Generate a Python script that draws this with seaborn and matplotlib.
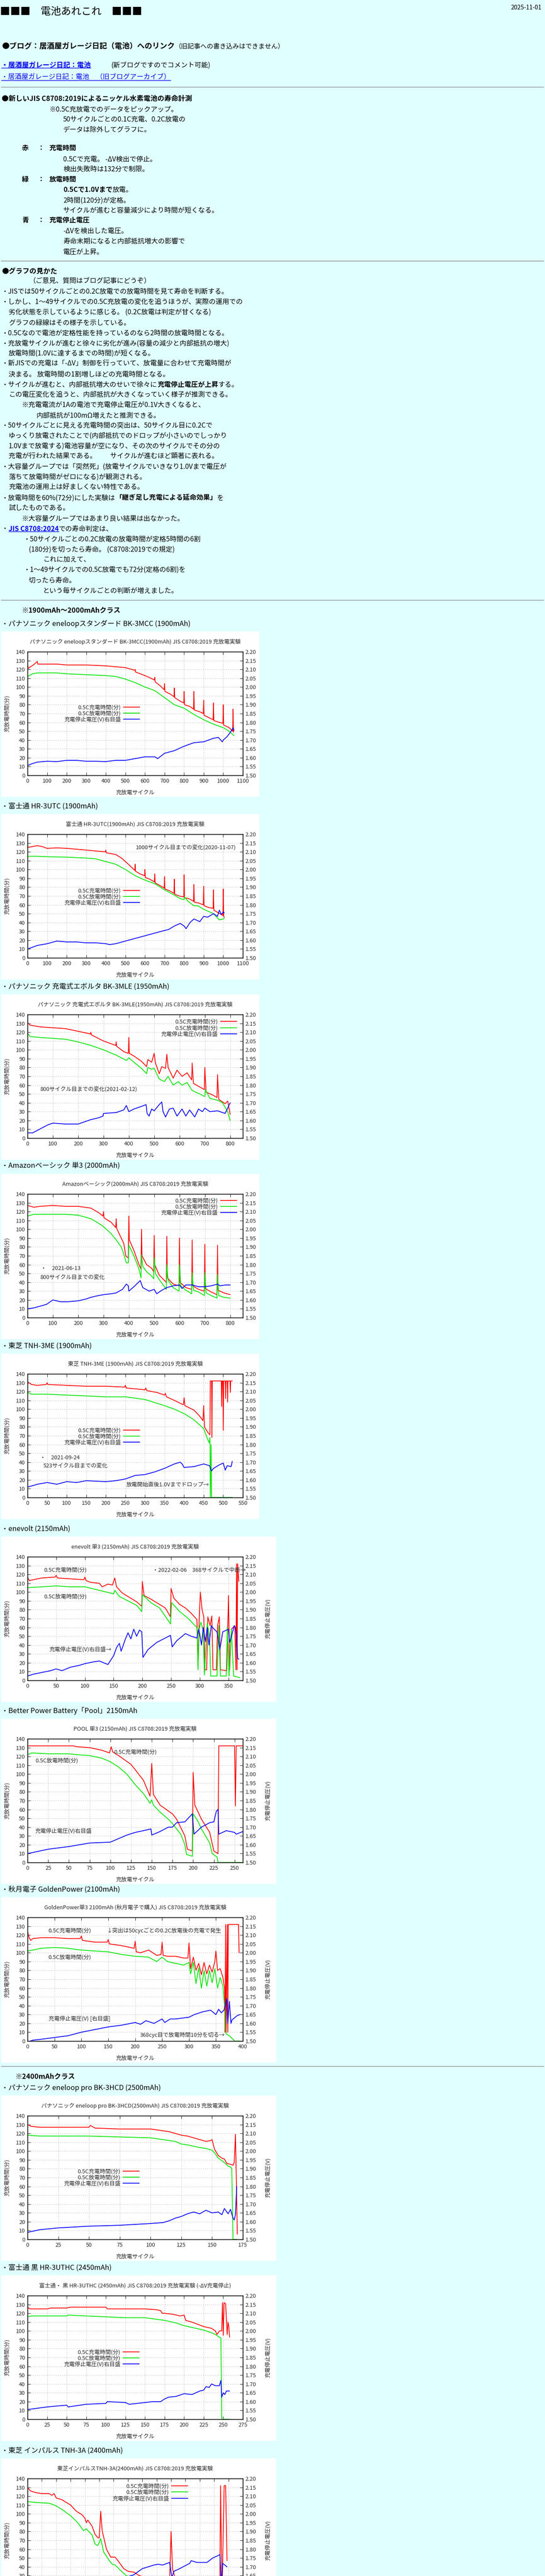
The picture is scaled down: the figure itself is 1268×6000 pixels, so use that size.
import matplotlib
matplotlib.use("Agg")

import matplotlib.pyplot as plt
import numpy as np
import pandas as pd
import seaborn as sns
from matplotlib.lines import Line2D
from matplotlib.patches import Rectangle

W, H = 1268, 6000
BG = "#e0ffff"
LINK = "#0000ee"
RED, GREEN, BLUE = "#ff0000", "#00e600", "#0000ff"
BODY = 11.3
SMALL = 9.3

# ---- page headings / chart titles ----
HEADERS = [
    "・パナソニック eneloopスタンダード BK-3MCC (1900mAh)",
    "・富士通 HR-3UTC (1900mAh)",
    "・パナソニック 充電式エボルタ BK-3MLE (1950mAh)",
    "・Amazonベーシック 単3 (2000mAh)",
    "・東芝 TNH-3ME (1900mAh)",
    "・enevolt (2150mAh)",
    "・Better Power Battery「Pool」2150mAh",
    "・秋月電子 GoldenPower (2100mAh)",
    "・パナソニック eneloop pro BK-3HCD (2500mAh)",
    "・富士通 黒 HR-3UTHC (2450mAh)",
    "・東芝 インパルス TNH-3A (2400mAh)",
]
TITLES = [
    "パナソニック eneloopスタンダード BK-3MCC(1900mAh) JIS C8708:2019 充放電実験",
    "富士通 HR-3UTC(1900mAh) JIS C8708:2019 充放電実験",
    "パナソニック 充電式エボルタ BK-3MLE(1950mAh) JIS C8708:2019 充放電実験",
    "Amazonベーシック(2000mAh) JIS C8708:2019 充放電実験",
    "東芝 TNH-3ME (1900mAh) JIS C8708:2019 充放電実験",
    "enevolt 単3 (2150mAh) JIS C8708:2019 充放電実験",
    "POOL 単3 (2150mAh) JIS C8708:2019 充放電実験",
    "GoldenPower単3 2100mAh (秋月電子で購入) JIS C8708:2019 充放電実験",
    "パナソニック eneloop pro BK-3HCD(2500mAh) JIS C8708:2019 充放電実験",
    "富士通・ 黒 HR-3UTHC (2450mAh) JIS C8708:2019 充放電実験 (-ΔV充電停止)",
    "東芝インパルスTNH-3A(2400mAh) JIS C8708:2019 充放電実験",
]
LEGEND_LABELS = ["0.5C充電時間(分)", "0.5C放電時間(分)", "充電停止電圧(V)右目盛"]

# ---- series: (cycle, minutes) for red/green, (cycle, volts) for blue ----
std_red = [(0, 126), (3, 121), (15, 123), (30, 125), (50, 129), (52, 126), (100, 126), (150, 126),
           (200, 125), (300, 125), (400, 124), (450, 123), (500, 122), (548, 119), (550, 120), (552, 117),
           (600, 113), (630, 110), (648, 108), (650, 111), (652, 106), (680, 101), (698, 97), (700, 104),
           (702, 95), (730, 92), (748, 89), (750, 99), (752, 88), (780, 84), (798, 82), (800, 95), (802, 80),
           (830, 78), (848, 75), (850, 95), (852, 74), (880, 72), (898, 70), (900, 85), (902, 68), (930, 65),
           (948, 63), (950, 82), (952, 62), (980, 60), (998, 59), (1000, 80), (1002, 57), (1030, 54),
           (1048, 50), (1050, 75), (1052, 49)]
std_green = [(0, 112), (10, 113), (25, 115), (50, 116), (100, 116), (150, 116), (200, 115), (300, 114),
             (400, 113), (450, 112), (500, 109), (550, 105), (600, 100), (650, 96), (700, 88), (750, 80),
             (800, 76), (850, 69), (900, 63), (950, 58), (1000, 54), (1030, 50), (1050, 46), (1055, 45)]
std_blue = [(0, 1.555), (20, 1.565), (50, 1.575), (100, 1.58), (150, 1.578), (200, 1.585), (250, 1.585),
            (300, 1.58), (350, 1.58), (400, 1.578), (450, 1.585), (500, 1.585), (550, 1.595), (600, 1.605),
            (650, 1.605), (665, 1.595), (700, 1.625), (750, 1.64), (800, 1.665), (850, 1.685), (900, 1.69),
            (950, 1.71), (975, 1.715), (995, 1.69), (1000, 1.70), (1020, 1.72), (1040, 1.75), (1050, 1.77),
            (1055, 1.755)]

utc_red = [(0, 128), (2, 125), (25, 126), (50, 127), (75, 126), (100, 124), (150, 124.5), (200, 124),
           (250, 123), (300, 122), (350, 121), (398, 120), (400, 122), (402, 119), (450, 117), (480, 113),
           (500, 109), (520, 105), (548, 99), (550, 106), (552, 98), (575, 95), (598, 93), (600, 100),
           (602, 91), (625, 89), (648, 86), (650, 95), (652, 85), (675, 82), (698, 79), (700, 92), (702, 78),
           (725, 76), (748, 73), (750, 89), (752, 72), (775, 70), (798, 69), (800, 94), (802, 68), (825, 67),
           (848, 64), (850, 83), (852, 63), (875, 62), (898, 60), (900, 81), (902, 59), (925, 57), (948, 56),
           (950, 77), (952, 54), (975, 51), (998, 48), (1000, 78), (1002, 47), (1005, 46)]
utc_green = [(0, 115), (50, 115), (100, 114.5), (200, 114), (300, 113), (350, 112), (400, 109), (450, 106),
             (500, 100), (550, 93), (600, 88), (650, 84), (700, 77), (750, 71), (780, 67), (800, 66),
             (802, 69), (820, 64), (850, 59), (870, 59), (900, 55), (950, 50), (980, 43), (1000, 44),
             (1005, 45)]
utc_blue = [(0, 1.55), (25, 1.56), (50, 1.57), (100, 1.58), (150, 1.595), (200, 1.59), (250, 1.59),
            (300, 1.585), (350, 1.585), (400, 1.58), (420, 1.575), (450, 1.58), (500, 1.595), (550, 1.61),
            (600, 1.625), (650, 1.64), (700, 1.655), (720, 1.66), (750, 1.68), (780, 1.695), (800, 1.68),
            (810, 1.665), (830, 1.70), (850, 1.72), (880, 1.705), (900, 1.735), (920, 1.73), (950, 1.75),
            (970, 1.735), (980, 1.77), (990, 1.745), (1000, 1.76), (1005, 1.755)]

mle_red = [(0, 131), (10, 128), (50, 126), (100, 125), (150, 124), (200, 121), (248, 118), (250, 120),
           (252, 117), (300, 110), (348, 105), (350, 109), (352, 104), (380, 98), (398, 96), (400, 114),
           (402, 96), (420, 93), (450, 87), (470, 81), (475, 89), (490, 86), (500, 96), (505, 85), (520, 73),
           (530, 81), (545, 79), (550, 95), (555, 80), (575, 68), (590, 77), (610, 70), (630, 74), (648, 66),
           (650, 85), (655, 62), (680, 58), (698, 55), (700, 80), (705, 52), (730, 49), (748, 46), (750, 72),
           (755, 44), (780, 39), (790, 42), (800, 27)]
mle_green = [(0, 119), (10, 115), (50, 114), (100, 113), (150, 112), (200, 109), (250, 105), (300, 100),
             (350, 94), (390, 88), (400, 91), (420, 86), (450, 79), (470, 73), (475, 80), (490, 78),
             (500, 79), (520, 67), (540, 64), (555, 70), (575, 60), (595, 64), (610, 60), (630, 63),
             (650, 54), (680, 50), (700, 47), (702, 55), (720, 45), (750, 43), (770, 40), (790, 30), (800, 20)]
mle_blue = [(0, 1.53), (20, 1.53), (40, 1.545), (60, 1.56), (80, 1.575), (100, 1.585), (150, 1.58),
            (200, 1.58), (230, 1.595), (250, 1.605), (280, 1.615), (298, 1.625), (300, 1.64), (350, 1.645),
            (380, 1.66), (390, 1.685), (400, 1.65), (420, 1.665), (450, 1.68), (468, 1.69), (472, 1.64),
            (480, 1.625), (490, 1.665), (500, 1.655), (520, 1.69), (530, 1.705), (535, 1.65), (545, 1.62),
            (560, 1.665), (575, 1.67), (590, 1.625), (610, 1.665), (625, 1.625), (640, 1.66), (660, 1.62),
            (675, 1.665), (690, 1.65), (700, 1.67), (720, 1.65), (750, 1.655), (780, 1.64), (800, 1.70)]

amz_red = [(0, 127), (25, 125), (50, 126), (100, 127), (150, 126), (200, 126), (250, 124), (280, 119),
           (298, 115), (300, 120), (302, 113), (330, 108), (348, 102), (350, 112), (352, 101), (370, 90),
           (380, 84), (388, 70), (395, 68), (398, 68), (400, 115), (402, 88), (420, 76), (440, 60), (448, 55),
           (450, 100), (452, 70), (470, 60), (490, 56), (498, 52), (500, 93), (502, 60), (520, 48), (548, 40),
           (550, 92), (552, 45), (575, 38), (598, 36), (600, 90), (602, 40), (625, 34), (648, 32), (650, 88),
           (652, 36), (675, 32), (698, 30), (700, 83), (702, 33), (725, 29), (748, 26), (750, 82), (752, 31),
           (775, 28), (800, 26)]
amz_green = [(0, 115), (25, 117), (50, 117), (100, 117), (150, 117), (200, 116), (250, 112), (280, 107),
             (300, 103), (330, 95), (350, 88), (370, 80), (380, 72), (390, 62), (398, 62), (400, 82),
             (420, 70), (440, 55), (448, 45), (450, 71), (455, 58), (470, 52), (490, 47), (498, 44),
             (500, 68), (505, 50), (520, 43), (548, 32), (550, 60), (555, 42), (575, 34), (598, 30),
             (600, 60), (605, 36), (625, 31), (648, 27), (650, 51), (655, 31), (675, 29), (698, 25),
             (700, 51), (705, 28), (725, 25), (748, 22), (750, 49), (755, 25), (775, 23), (800, 22)]
amz_blue = [(0, 1.55), (25, 1.555), (50, 1.565), (75, 1.575), (100, 1.60), (130, 1.59), (160, 1.59),
            (200, 1.595), (230, 1.605), (250, 1.615), (280, 1.625), (300, 1.63), (330, 1.635), (350, 1.64),
            (375, 1.66), (390, 1.69), (398, 1.68), (400, 1.65), (420, 1.675), (445, 1.71), (455, 1.67),
            (480, 1.65), (500, 1.66), (510, 1.635), (530, 1.655), (550, 1.67), (575, 1.68), (600, 1.685),
            (610, 1.665), (625, 1.685), (650, 1.685), (675, 1.675), (700, 1.675), (725, 1.68), (750, 1.69),
            (760, 1.68), (780, 1.685), (800, 1.685)]

tme_red = [(0, 131), (10, 128), (25, 127), (48, 128), (50, 130), (52, 128), (100, 127), (150, 126),
           (200, 126), (248, 125), (250, 127), (252, 124), (300, 122), (302, 124), (305, 121), (330, 119),
           (350, 116), (352, 118), (355, 114), (375, 110), (398, 105), (400, 113), (402, 104), (425, 99),
           (440, 92), (448, 87), (450, 104), (452, 80), (460, 74), (466, 71), (467, 132), (470, 132),
           (471, 68), (472, 132), (495, 132), (496, 103), (497, 132), (499, 132), (500, 76), (501, 132),
           (505, 132), (506, 112), (507, 132), (510, 132), (511, 108), (512, 132), (517, 132), (518, 119),
           (519, 132), (523, 132)]
tme_green = [(0, 119), (10, 117), (50, 117), (100, 116), (150, 115), (200, 114), (250, 114), (300, 111),
             (350, 104), (375, 100), (400, 95), (425, 88), (450, 78), (460, 66), (464, 62), (466, 68),
             (467, 0), (469, 60), (470, 0), (523, 0)]
tme_blue = [(0, 1.56), (10, 1.565), (25, 1.575), (50, 1.585), (75, 1.575), (100, 1.59), (125, 1.585),
            (150, 1.595), (200, 1.59), (225, 1.595), (250, 1.605), (275, 1.625), (300, 1.63), (325, 1.645),
            (350, 1.665), (375, 1.69), (390, 1.70), (395, 1.69), (400, 1.67), (425, 1.675), (450, 1.69),
            (465, 1.68), (470, 1.65), (475, 1.665), (490, 1.685), (500, 1.695), (505, 1.655), (510, 1.68),
            (520, 1.675), (523, 1.705)]

env_red = [(0, 117), (3, 113), (25, 116), (48, 117), (50, 119), (52, 116), (75, 115), (98, 114), (100, 117),
           (102, 113), (110, 111), (125, 110), (130, 106), (140, 109), (148, 108), (152, 116), (155, 106),
           (165, 99), (175, 95), (190, 89), (199, 84), (200, 112), (203, 96), (215, 92), (230, 86), (240, 82),
           (249, 72), (250, 104), (255, 93), (265, 86), (275, 82), (285, 76), (295, 69), (297, 16), (299, 70),
           (301, 100), (304, 80), (307, 72), (309, 12), (312, 12), (314, 72), (318, 62), (321, 73), (323, 12),
           (329, 12), (331, 62), (334, 72), (336, 12), (347, 11), (350, 96), (352, 12), (355, 58), (358, 60),
           (361, 62), (363, 12), (364, 132), (365, 12), (366, 132), (368, 112)]
env_green = [(0, 105), (25, 106), (50, 107), (75, 106), (100, 106), (125, 102), (150, 98), (152, 102),
             (160, 95), (175, 90), (190, 85), (199, 78), (200, 97), (215, 88), (230, 82), (249, 64),
             (251, 88), (265, 78), (280, 70), (295, 60), (297, 12), (299, 58), (302, 66), (306, 56), (308, 6),
             (313, 65), (317, 50), (319, 5), (330, 5), (333, 62), (336, 5), (346, 5), (348, 60), (351, 5),
             (355, 58), (359, 5), (370, 3)]
env_blue = [(0, 1.525), (10, 1.535), (25, 1.545), (40, 1.555), (50, 1.565), (60, 1.555), (75, 1.575),
            (90, 1.585), (100, 1.595), (115, 1.605), (125, 1.61), (140, 1.59), (150, 1.64), (155, 1.685),
            (160, 1.71), (163, 1.665), (170, 1.73), (175, 1.77), (180, 1.735), (185, 1.79), (190, 1.75),
            (195, 1.785), (199, 1.775), (201, 1.63), (210, 1.675), (225, 1.715), (240, 1.74), (249, 1.755),
            (252, 1.69), (260, 1.725), (275, 1.765), (285, 1.75), (295, 1.74), (298, 1.79), (300, 1.76),
            (303, 1.70), (306, 1.80), (310, 1.72), (313, 1.80), (316, 1.70), (320, 1.81), (325, 1.79),
            (330, 1.775), (335, 1.675), (340, 1.775), (350, 1.79), (352, 1.715), (356, 1.76), (360, 1.81),
            (362, 1.80), (364, 1.75), (366, 1.625), (368, 1.62)]

pool_red = [(0, 132), (25, 132), (55, 132), (60, 131), (75, 130), (90, 127), (99, 124), (101, 131),
            (103, 125), (110, 121), (125, 111), (140, 93), (148, 75), (150, 112), (152, 77), (160, 65),
            (175, 55), (180, 49), (190, 30), (193, 15), (199, 13), (200, 102), (202, 65), (210, 49), (220, 34),
            (225, 13), (230, 10), (231, 132), (250, 132), (251, 64), (252, 132), (260, 132)]
pool_green = [(0, 122), (5, 124), (25, 123), (50, 123), (60, 122), (75, 121), (90, 118), (100, 114),
              (110, 108), (120, 100), (125, 94), (130, 88), (140, 78), (148, 67), (150, 71), (152, 65),
              (160, 57), (170, 49), (175, 44), (180, 38), (185, 32), (190, 20), (192, 9), (199, 7), (200, 55),
              (205, 48), (210, 38), (215, 30), (220, 22), (223, 10), (229, 6), (230, 0), (260, 0)]
pool_blue = [(0, 1.55), (10, 1.56), (25, 1.575), (50, 1.59), (75, 1.61), (100, 1.615), (110, 1.635),
             (120, 1.655), (130, 1.67), (140, 1.68), (149, 1.69), (150, 1.655), (160, 1.675), (170, 1.70),
             (175, 1.70), (180, 1.725), (190, 1.73), (199, 1.775), (201, 1.66), (210, 1.70), (220, 1.725),
             (225, 1.73), (228, 1.79), (230, 1.80), (231, 1.66), (240, 1.68), (250, 1.67), (252, 1.66),
             (260, 1.675)]

gp_red = [(0, 124), (3, 117), (6, 114), (10, 116), (25, 117), (50, 117), (75, 116), (98, 116), (100, 119),
          (102, 114), (125, 112), (148, 112), (150, 115), (152, 110), (175, 108), (198, 105), (200, 113),
          (202, 101), (210, 100), (225, 103), (240, 97), (248, 98), (250, 112), (252, 97), (260, 96),
          (275, 96), (290, 94), (298, 94), (300, 111), (303, 82), (308, 95), (313, 80), (318, 88), (323, 75),
          (328, 89), (333, 76), (338, 86), (343, 78), (348, 90), (350, 102), (353, 80), (358, 82), (363, 72),
          (366, 60), (367, 10), (368, 132), (369, 10), (371, 132), (372, 10), (373, 132), (392, 132),
          (393, 100)]
gp_green = [(0, 102), (10, 103), (25, 105), (50, 106), (75, 105), (100, 103), (125, 102), (150, 101),
            (175, 98), (200, 96), (225, 95), (240, 90), (250, 95), (260, 90), (275, 88), (290, 86), (300, 89),
            (303, 76), (308, 89), (313, 65), (318, 83), (323, 60), (328, 80), (333, 62), (338, 80), (343, 66),
            (348, 82), (353, 60), (358, 72), (363, 62), (366, 40), (367, 18), (369, 8), (375, 6), (380, 3),
            (385, 0), (395, 0)]
gp_blue = [(5, 1.50), (10, 1.505), (25, 1.51), (50, 1.52), (75, 1.53), (100, 1.55), (125, 1.565),
           (150, 1.58), (175, 1.59), (200, 1.605), (210, 1.595), (220, 1.615), (235, 1.60), (250, 1.625),
           (255, 1.605), (265, 1.625), (275, 1.625), (300, 1.635), (310, 1.65), (325, 1.665), (340, 1.675),
           (350, 1.65), (355, 1.68), (360, 1.66), (365, 1.675), (370, 1.74), (372, 1.60), (375, 1.725),
           (378, 1.60), (380, 1.62), (390, 1.645), (395, 1.65)]

pro_red = [(0, 130), (3, 128), (10, 127), (25, 127), (50, 127), (51, 129), (55, 126), (75, 125), (100, 125),
           (105, 124), (110, 123), (115, 122), (120, 120), (125, 118), (130, 117), (140, 113), (145, 111),
           (149, 112), (150, 113), (152, 102), (155, 95), (158, 92), (160, 91), (162, 86), (165, 85),
           (167, 84), (168, 87), (169, 119), (170, 46), (170.5, 6)]
pro_green = [(0, 118), (10, 117), (25, 117), (50, 117), (75, 116), (100, 115), (110, 113), (120, 111),
             (125, 108), (130, 107), (140, 104), (145, 103), (150, 101), (152, 98), (155, 92), (160, 87),
             (163, 83), (165, 82), (166, 80), (167, 0), (170, 0)]
pro_blue = [(0, 1.54), (10, 1.555), (25, 1.565), (50, 1.575), (75, 1.58), (100, 1.59), (110, 1.595),
            (115, 1.605), (120, 1.62), (125, 1.63), (130, 1.645), (135, 1.655), (140, 1.645), (145, 1.665),
            (150, 1.65), (155, 1.655), (158, 1.64), (160, 1.675), (163, 1.645), (165, 1.67), (167, 1.62),
            (168, 1.61), (169, 1.64), (170, 1.80)]

uthc_red = [(0, 127), (3, 125), (25, 125), (30, 126), (50, 126), (55, 127), (75, 127), (100, 127),
            (102, 125), (125, 125), (150, 125), (165, 124), (170, 123), (172, 120), (175, 120), (185, 119),
            (190, 118), (195, 117), (200, 118), (202, 112), (210, 110), (225, 105), (235, 103), (240, 100),
            (242, 96), (245, 100), (248, 100), (249, 132), (250, 95), (251, 132), (253, 131), (255, 96),
            (256, 110), (257, 106), (258, 93)]
uthc_green = [(0, 116), (5, 117), (25, 117), (50, 117), (52, 118), (75, 117), (100, 116), (125, 115),
              (150, 115), (175, 112), (190, 109), (200, 106), (210, 104), (225, 101), (235, 98), (240, 96),
              (245, 93), (247, 92), (248, 0), (258, 0)]
uthc_blue = [(0, 1.555), (25, 1.57), (50, 1.58), (52, 1.57), (75, 1.585), (100, 1.59), (102, 1.60),
             (125, 1.595), (130, 1.585), (150, 1.595), (160, 1.60), (170, 1.60), (175, 1.615), (180, 1.625),
             (190, 1.63), (200, 1.645), (210, 1.64), (220, 1.66), (225, 1.665), (228, 1.685), (232, 1.68),
             (235, 1.70), (240, 1.69), (245, 1.69), (247, 1.72), (248, 1.625), (250, 1.65), (252, 1.64),
             (254, 1.66), (258, 1.66)]

tna_red = [(0, 130), (2, 126), (6, 124), (10, 123), (15, 123), (17, 121), (18.5, 123), (20, 118), (24, 116),
           (30, 110), (34, 103), (38, 99), (40, 95), (41, 90), (42, 93), (45, 86), (47, 77), (49, 73),
           (50, 73), (51, 103), (52, 81), (55, 60), (58, 51), (61, 51), (63, 47), (67, 38), (70, 35),
           (74, 34), (78, 30), (85, 27), (95, 25), (99, 25), (100, 80), (101, 38), (103, 26), (110, 25),
           (130, 24), (134, 24), (134.5, 132), (135.5, 10), (137, 132), (138, 132), (139, 47)]
tna_green = [(0, 114), (5, 113), (15, 112), (17, 111), (20, 109), (24, 105), (30, 98), (35, 90), (39, 81),
             (41, 83), (45, 76), (47, 66), (49, 64), (51, 72), (53, 57), (57, 47), (59, 43), (61, 42),
             (63, 39), (66, 34), (69, 30), (75, 27), (85, 24), (95, 22), (100, 22), (101, 28), (103, 21),
             (120, 20), (134, 19), (135, 0), (139, 0)]
tna_blue = [(0, 1.55), (20, 1.57), (40, 1.59), (60, 1.62), (70, 1.645), (74, 1.655), (80, 1.69), (88, 1.71),
            (91, 1.715), (94, 1.71), (99, 1.725), (100.5, 1.64), (102, 1.675), (106, 1.69), (113, 1.72),
            (114, 1.735), (118, 1.725), (125, 1.725), (129, 1.75), (133, 1.765), (134, 1.77), (135, 1.60),
            (136, 1.72), (139, 1.70)]

# in-plot notes: (text, cycle, minutes)
utc_notes = [("1000サイクル目までの変化(2020-11-07)", 552, 125)]
mle_notes = [("800サイクル目までの変化(2021-02-12)", 50, 55.5)]
amz_notes = [("・　2021-06-13", 53, 55.6), ("800サイクル目までの変化", 50, 45.5)]
tme_notes = [("・　2021-09-24", 32, 45.2), ("523サイクル目までの変化", 40, 36),
             ("放電開始直後1.0Vまでドロップ→", 252, 14.6)]
env_notes = [("0.5C充電時間(分)", 28.5, 124.8), ("0.5C放電時間(分)", 28.5, 95),
             ("充電停止電圧(V)右目盛→", 38, 35.3), ("・2022-02-06　368サイクルで中断→", 218, 124.8)]
pool_notes = [("0.5C充電時間(分)", 104.4, 124.9), ("0.5C放電時間(分)", 9.3, 115.2),
              ("充電停止電圧(V)右目盛", 9.3, 35.5)]
gp_notes = [("0.5C充電時間(分)", 39, 124.9), ("↓突出は50cycごとの0.2C放電後の充電で発生", 147.7, 124.9),
            ("0.5C放電時間(分)", 39, 95.1), ("充電停止電圧(V) [右目盛]", 39, 25.7),
            ("368cyc目で放電時間10分を切る→", 208.6, 6.6)]

CHARTS = [
    dict(top=1518, xmax=1100, xstep=100, red=std_red, green=std_green, blue=std_blue, wide=False,
         legend=(0.521, 0.50), notes=[]),
    dict(top=1943, xmax=1100, xstep=100, red=utc_red, green=utc_green, blue=utc_blue, wide=False,
         legend=(0.521, 0.495), notes=utc_notes),
    dict(top=2363, xmax=850, xstep=100, red=mle_red, green=mle_green, blue=mle_blue, wide=False,
         legend=(0.972, 0.891), notes=mle_notes),
    dict(top=2781, xmax=850, xstep=100, red=amz_red, green=amz_green, blue=amz_blue, wide=False,
         legend=(0.972, 0.897), notes=amz_notes),
    dict(top=3200, xmax=550, xstep=50, red=tme_red, green=tme_green, blue=tme_blue, wide=False,
         legend=(0.521, 0.494), notes=tme_notes),
    dict(top=3626, xmax=375, xstep=50, red=env_red, green=env_green, blue=env_blue, wide=True,
         legend=None, notes=env_notes),
    dict(top=4050, xmax=260, xstep=25, red=pool_red, green=pool_green, blue=pool_blue, wide=True,
         legend=None, notes=pool_notes),
    dict(top=4466, xmax=400, xstep=50, red=gp_red, green=gp_green, blue=gp_blue, wide=True,
         legend=None, notes=gp_notes),
    dict(top=4928, xmax=175, xstep=25, red=pro_red, green=pro_green, blue=pro_blue, wide=True,
         legend=(0.519, 0.50), notes=[]),
    dict(top=5347, xmax=275, xstep=25, red=uthc_red, green=uthc_green, blue=uthc_blue, wide=True,
         legend=(0.519, 0.493), notes=[]),
    dict(top=5773, xmax=150, xstep=10, red=tna_red, green=tna_green, blue=tna_blue, wide=True,
         legend=(0.745, 0.888), notes=[]),
]

sns.set_style("ticks")
plt.rcParams["font.family"] = ["Noto Sans CJK JP", "DejaVu Sans"]
plt.rcParams["axes.unicode_minus"] = False

fig = plt.figure(figsize=(W / 100, H / 100), dpi=100, facecolor=BG)
renderer = fig.canvas.get_renderer()

N = {}
B = {"weight": "bold"}


def put(x, y, s, size=BODY, weight="normal", color="black", ha="left", underline=False):
    t = fig.text(x / W, 1 - y / H, s, fontsize=size, fontweight=weight, color=color, ha=ha, va="center")
    if underline:
        bb = t.get_window_extent(renderer)
        fig.add_artist(Line2D([bb.x0 / W, bb.x1 / W], [(bb.y0 + 2) / H] * 2, color=color, lw=1))
    return t


def run(x, y, parts):
    for s, kw in parts:
        t = put(x, y, s, **kw)
        x = t.get_window_extent(renderer).x1


def hr(y):
    fig.add_artist(Line2D([3 / W, 1265 / W], [1 - y / H] * 2, color="#9a9a9a", lw=1.2))


def draw_chart(i, c):
    top = c["top"]
    bottom = top + 288
    put(3, top - 65, HEADERS[i], size=11.8)
    right = 643 if c["wide"] else 603
    fig.add_artist(Rectangle((3 / W, 1 - (top + 338) / H), (right - 3) / W, 385 / H,
                             transform=fig.transFigure, facecolor="white", edgecolor="none", zorder=-1))

    ax = fig.add_axes([64 / W, 1 - bottom / H, 501 / W, 288 / H])
    ax2 = ax.twinx()
    for pts, color, target in ((c["red"], RED, ax), (c["green"], GREEN, ax), (c["blue"], BLUE, ax2)):
        df = pd.DataFrame(pts, columns=["cycle", "value"])
        sns.lineplot(data=df, x="cycle", y="value", ax=target, color=color, lw=1.3,
                     estimator=None, sort=False, legend=False)

    ax.set_xlim(0, c["xmax"])
    ax.set_ylim(0, 140)
    ax2.set_ylim(1.5, 2.2)

    # labels that would fall below the page edge stay blank (the page is cut there)
    below = bottom + 9 > H
    xt = np.arange(0, c["xmax"] + 1, c["xstep"])
    ax.set_xticks(xt)
    ax.set_xticklabels(["" if below else str(v) for v in xt])
    yt = np.arange(0, 141, 10)
    ypix = [bottom - v / 140 * 288 for v in yt]
    ax.set_yticks(yt)
    ax.set_yticklabels(["" if p - 4 > H else str(v) for v, p in zip(yt, ypix)])
    vt = np.linspace(1.5, 2.2, 15)
    ax2.set_yticks(vt)
    ax2.set_yticklabels(["" if p - 4 > H else f"{v:.2f}" for v, p in zip(vt, ypix)])

    for a in (ax, ax2):
        a.set_xlabel("")
        a.set_ylabel("")
        for sp in a.spines.values():
            sp.set_color("black")
            sp.set_linewidth(1)
    ax.tick_params(axis="x", direction="in", top=True, length=5, pad=5, labelsize=SMALL)
    ax.tick_params(axis="y", direction="in", right=False, length=5, pad=4, labelsize=SMALL)
    ax2.tick_params(axis="y", direction="in", length=5, pad=4, labelsize=SMALL)
    ax.grid(True, color="#a0a0a0", linestyle=(0, (1, 3)), lw=0.8)
    ax.set_facecolor("white")

    ax.text(0.5, 1 + 23 / 288, TITLES[i], transform=ax.transAxes, ha="center", va="center", fontsize=SMALL)
    if not below:
        ax.text(0.5, -40 / 288, "充放電サイクル", transform=ax.transAxes, ha="center", va="center",
                fontsize=SMALL)
    ax.text(-48 / 501, 0.5, "充放電時間(分)", transform=ax.transAxes, ha="center", va="center",
            rotation=90, fontsize=SMALL)
    if c["wide"]:
        ax.text(559 / 501, 0.5, "充電停止電圧(V)", transform=ax.transAxes, ha="center", va="center",
                rotation=90, fontsize=SMALL)

    for s, x, y in c["notes"]:
        ax.text(x, y, s, ha="left", va="center", fontsize=SMALL)

    if c["legend"] is not None:
        handles = [Line2D([], [], color=col, lw=1.3) for col in (RED, GREEN, BLUE)]
        ax.legend(handles, LEGEND_LABELS, loc="center right", bbox_to_anchor=c["legend"],
                  markerfirst=False, frameon=False, fontsize=SMALL, handlelength=2.95,
                  handletextpad=0.45, labelspacing=0.05, borderpad=0, borderaxespad=0)


# ---- page text ----
put(0, 28, "■■■　電池あれこれ　■■■", size=17)
put(1260, 18, "2025-11-01", size=10, ha="right")

run(4, 108, [("●ブログ：居酒屋ガレージ日記（電池）へのリンク", dict(weight="bold", size=12.6)),
             ("（旧記事への書き込みはできません）", dict(size=10.8))])
put(3, 152, "・居酒屋ガレージ日記：電池", weight="bold", color=LINK, size=11.5, underline=True)
put(259, 152, "(新ブログですのでコメント可能)")
put(3, 180, "・居酒屋ガレージ日記：電池　（旧ブログアーカイブ）", color=LINK, underline=True)
hr(203)

put(4, 230, "●新しいJIS C8708:2019によるニッケル水素電池の寿命計測", weight="bold", size=11.6)
put(115, 255, "※0.5C充放電でのデータをピックアップ。")
put(147, 278, "50サイクルごとの0.1C充電、0.2C放電の")
put(147, 302, "データは除外してグラフに。")

for y, key, name in ((345, "赤", "充電時間"), (418, "緑", "放電時間"), (513, "青", "充電停止電圧")):
    put(51, y, key, weight="bold")
    put(88, y, "：", weight="bold")
    put(115, y, name, weight="bold")
put(147, 371, "0.5Cで充電。 -ΔV検出で停止。")
put(147, 394, "検出失敗時は132分で制限。")
run(147, 442, [("0.5Cで1.0Vまで", B), ("放電。", N)])
put(147, 467, "2時間(120分)が定格。")
put(147, 490, "サイクルが進むと容量減少により時間が短くなる。")
put(147, 538, "-ΔVを検出した電圧。")
put(147, 562, "寿命末期になると内部抵抗増大の影響で")
put(147, 587, "電圧が上昇。")
hr(608)

put(4, 632, "●グラフの見かた", weight="bold", size=11.6)
put(67, 655, "（ご意見、質問はブログ記事にどうぞ）")
put(4, 679, "・JISでは50サイクルごとの0.2C放電での放電時間を見て寿命を判断する。")
put(4, 703, "・しかし、1〜49サイクルでの0.5C充放電の変化を追うほうが、実際の運用での")
put(20, 727, "劣化状態を示しているように感じる。 (0.2C放電は判定が甘くなる)")
put(20, 752, "グラフの緑線はその様子を示している。")
put(4, 776, "・0.5Cなので電池が定格性能を持っているのなら2時間の放電時間となる。")
put(4, 800, "・充放電サイクルが進むと徐々に劣化が進み(容量の減少と内部抵抗の増大)")
put(20, 823, "放電時間(1.0Vに達するまでの時間)が短くなる。")
put(4, 847, "・新JISでの充電は「-ΔV」制御を行っていて、放電量に合わせて充電時間が")
put(20, 872, "決まる。 放電時間の1割増しほどの充電時間となる。")
run(4, 896, [("・サイクルが進むと、内部抵抗増大のせいで徐々に", N), ("充電停止電圧が上昇", B), ("する。", N)])
put(20, 920, "この電圧変化を追うと、内部抵抗が大きくなっていく様子が推測できる。")
put(51, 943, "※充電電流が1Aの電池で充電停止電圧が0.1V大きくなると、")
put(84, 968, "内部抵抗が100mΩ増えたと推測できる。")
put(4, 992, "・50サイクルごとに見える充電時間の突出は、50サイクル目に0.2Cで")
put(20, 1015, "ゆっくり放電されたことで(内部抵抗でのドロップが小さいのでしっかり")
put(20, 1039, "1.0Vまで放電する)電池容量が空になり、その次のサイクルでその分の")
put(20, 1063, "充電が行われた結果である。　　サイクルが進むほど顕著に表れる。")
put(4, 1087, "・大容量グループでは「突然死」(放電サイクルでいきなり1.0Vまで電圧が")
put(20, 1111, "落ちて放電時間がゼロになる)が観測される。")
put(20, 1135, "充電池の運用上は好ましくない特性である。")
run(4, 1160, [("・放電時間を60%(72分)にした実験は", N), ("「継ぎ足し充電による延命効果」", B), ("を", N)])
put(20, 1183, "試したものである。")
put(51, 1208, "※大容量グループではあまり良い結果は出なかった。")
run(4, 1232, [("・", N), ("JIS C8708:2024", dict(weight="bold", color=LINK, underline=True)),
              ("での寿命判定は、", N)])
put(55, 1256, "・50サイクルごとの0.2C放電の放電時間が定格5時間の6割")
put(67, 1280, "(180分)を切ったら寿命。 (C8708:2019での規定)")
put(100, 1303, "これに加えて、")
put(55, 1327, "・1〜49サイクルでの0.5C放電でも72分(定格の6割)を")
put(67, 1352, "切ったら寿命。")
put(100, 1376, "という毎サイクルごとの判断が増えました。")
hr(1398)
put(51, 1422, "※1900mAh〜2000mAhクラス", weight="bold", size=11.6)

hr(4813)
put(36, 4837, "※2400mAhクラス", weight="bold", size=11.6)

for i, chart in enumerate(CHARTS):
    draw_chart(i, chart)

fig.savefig("out.png", dpi=100, facecolor=BG)
